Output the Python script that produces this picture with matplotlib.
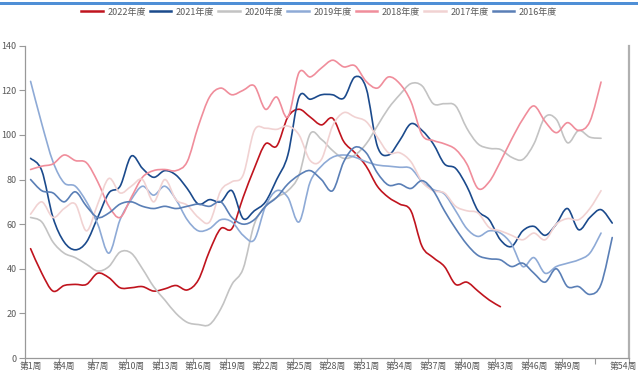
import matplotlib
matplotlib.use("Agg")
import matplotlib.pyplot as plt
from matplotlib.path import Path
from matplotlib.patches import PathPatch, Rectangle
from matplotlib.lines import Line2D
import numpy as np

plt.rcParams['font.family'] = ['Noto Sans CJK SC', 'DejaVu Sans']

# weekly index values per season
y2022 = [49, 38, 30, 32.5, 33, 33, 38, 36, 31.5, 31.5, 32, 30, 31, 32.5, 30.5,
         35, 48, 58, 58, 72, 85, 96, 95, 108, 111.5, 108, 104.5, 107.5, 97, 92,
         86, 77, 72, 69, 66, 50, 45, 41, 33, 34, 30, 26, 23]
y2021 = [89.5, 84, 63, 52, 48.5, 52, 63, 74, 77, 90.5, 85, 81, 84, 82, 76,
         69, 71, 70, 75, 62.5, 66, 70, 80, 91, 117, 116, 118, 118, 116.5, 126,
         121, 95, 91, 97.5, 105, 102, 96, 87, 85, 77, 66, 62, 53, 50, 57,
         59, 55, 60, 67, 57.5, 63, 66.5, 60.5]
y2020 = [63, 61, 52, 47, 45, 42, 39, 41, 47.5, 47, 40, 32, 26, 20, 16,
         15, 15, 22, 33, 40, 60, 68, 72, 75, 82, 100.5, 98, 93, 89.5, 91,
         96, 104, 112, 118, 123, 122, 114, 114, 113, 103, 96, 94, 93.5, 90, 89,
         96, 108, 107, 96.5, 102, 99, 98.5]
y2019 = [124, 105, 88, 78.5, 77, 70, 60, 47, 62, 71, 77, 73, 77, 71, 62,
         57, 58, 62, 61, 55, 53, 68, 75, 72, 61, 79, 86, 90, 91, 90,
         88, 86.5, 86, 85.5, 85, 79, 75.5, 73.5, 66, 58, 54.5, 57, 56, 51, 41,
         45, 38, 41, 42.5, 44, 47, 56]
y2018 = [84.5, 86, 87, 91, 88.5, 87.5, 79, 68, 63, 72, 81, 84, 84.5, 84, 88,
         104, 117, 121, 118, 120, 122, 111.5, 117, 108, 128, 126, 130, 133.5, 130.5, 131,
         124, 121, 126, 123, 115, 100, 97.5, 96, 93.5, 87, 76, 79, 88, 98, 107,
         113, 106, 101, 105.5, 102, 106, 123.7]
y2017 = [64.5, 70, 63, 67, 69, 57, 69, 80.5, 74, 77, 80, 70, 80, 71, 68.5,
         63, 61, 75, 79, 82, 102, 103, 102.5, 104, 100, 88.5, 89, 104, 110, 108,
         106, 99, 92, 92, 88, 79, 75, 74, 68, 66, 65, 58.5, 57, 55, 53,
         56, 53, 60, 62.5, 62, 67, 75]
y2016 = [80, 75, 74, 70, 74.5, 68, 63, 65, 69, 70, 68, 67, 68, 67, 68,
         69, 68, 70, 63, 60, 62, 68, 72, 78, 82, 84, 80, 75, 88, 94.5,
         92, 83, 77.5, 78, 76, 79.5, 75, 66, 58, 51, 46, 44.5, 44, 41, 42.5,
         38, 34, 40, 32, 32, 28.5, 33, 54]

series_names = ['2022年度', '2021年度', '2020年度', '2019年度', '2018年度', '2017年度', '2016年度']
series_values = [y2022, y2021, y2020, y2019, y2018, y2017, y2016]
series_colors = ['#c0141e', '#1b4a8c', '#c3c3c3', '#8eaad6', '#f08d9b', '#f1d2d2', '#5a7fb6']

n_weeks = 54
week_labels = ['第%d周' % w for w in range(1, n_weeks + 1)]
shown_weeks = list(range(1, 50, 3)) + [54]


def smooth_path(xs, ys, k=1.0 / 6):
    pts = np.column_stack([xs, ys]).astype(float)
    n = len(pts)
    verts = [pts[0]]
    codes = [Path.MOVETO]
    for i in range(n - 1):
        p0 = pts[max(i - 1, 0)]
        p1 = pts[i]
        p2 = pts[i + 1]
        p3 = pts[min(i + 2, n - 1)]
        c1 = p1 + (p2 - p0) * k
        c2 = p2 - (p3 - p1) * k
        verts += [c1, c2, p2]
        codes += [Path.CURVE4] * 3
    return Path(verts, codes)


fig = plt.figure(figsize=(6.38, 3.78), dpi=100)
ax = fig.add_axes([25 / 638, 20 / 378, 604 / 638, 312.3 / 378])

for name, vals, col in zip(series_names, series_values, series_colors):
    xs = np.arange(1, len(vals) + 1)
    ax.add_patch(PathPatch(smooth_path(xs, vals), facecolor='none',
                           edgecolor=col, lw=1.2, capstyle='round', joinstyle='round'))

ax.set_xlim(0.5, n_weeks + 0.5)
ax.set_ylim(0, 140)

# category boundaries carry the tick marks, labels sit on the categories
ax.set_xticks(np.arange(0.5, n_weeks + 1, 3))
ax.set_xticklabels([])
ax.set_xticks(shown_weeks, minor=True)
ax.set_xticklabels([week_labels[w - 1] for w in shown_weeks], minor=True)
ax.tick_params(axis='x', which='major', length=4, color='#999999', width=0.8)
ax.tick_params(axis='x', which='minor', length=0, pad=3, labelsize=6.3, labelcolor='#595959')

ax.set_yticks(range(0, 141, 20))
ax.tick_params(axis='y', length=4, color='#999999', width=0.8, pad=2,
               labelsize=6.5, labelcolor='#595959')

for side in ['left', 'bottom']:
    ax.spines[side].set_color('#999999')
    ax.spines[side].set_linewidth(0.9)
ax.spines['right'].set_color('#b0b0b0')
ax.spines['right'].set_linewidth(1.6)
ax.spines['top'].set_visible(False)

# header band along the top edge
fig.add_artist(Rectangle((0, 1 - 4.5 / 378), 1, 2.5 / 378, transform=fig.transFigure,
                         facecolor='#4f8fd6', edgecolor='none'))

handles = [Line2D([], [], color=c, lw=1.8) for c in series_colors]
fig.legend(handles, series_names, loc='center', bbox_to_anchor=(0.5, 1 - 12 / 378),
           ncol=7, frameon=False, fontsize=6.5, handlelength=2.4, handletextpad=0.5,
           columnspacing=0.45, labelcolor='#595959', borderpad=0)

fig.savefig('out.png', dpi=100)
